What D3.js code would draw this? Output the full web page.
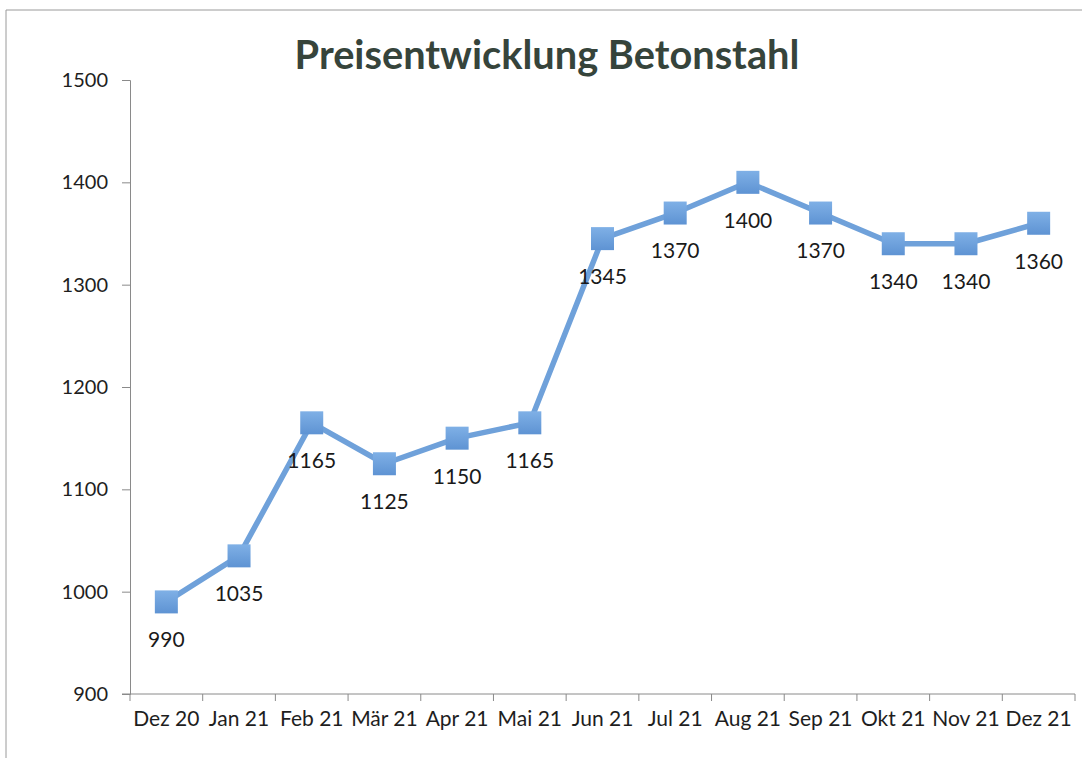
<!DOCTYPE html>
<html><head><meta charset="utf-8">
<script src="https://cdn.jsdelivr.net/npm/d3@7"></script>
<style>
html,body{margin:0;padding:0;background:#fff;}
svg{display:block;}
</style>
</head><body>
<svg id="c" width="1082" height="758"></svg>
<script>
const categories = ["Dez 20","Jan 21","Feb 21","Mär 21","Apr 21","Mai 21","Jun 21","Jul 21","Aug 21","Sep 21","Okt 21","Nov 21","Dez 21"];
const prices = [990,1035,1165,1125,1150,1165,1345,1370,1400,1370,1340,1340,1360];
const yTicks = [900,1000,1100,1200,1300,1400,1500];
const titleText = "Preisentwicklung Betonstahl";

const svg = d3.select("#c");
const FONT = "Lato, 'Open Sans', sans-serif";

// faint scan frame
svg.append("line").attr("x1",6).attr("x2",6).attr("y1",10).attr("y2",758).attr("stroke","#9a9a9a").attr("stroke-width",1);
svg.append("line").attr("x1",6).attr("x2",1082).attr("y1",10).attr("y2",10).attr("stroke","#9a9a9a").attr("stroke-width",1);

const x = d3.scaleBand().domain(categories).range([130,1075]).padding(0);
const y = d3.scaleLinear().domain([900,1500]).range([694,80]);

const defs = svg.append("defs");
const g = defs.append("linearGradient").attr("id","mk").attr("x1",0).attr("y1",0).attr("x2",0).attr("y2",1);
g.append("stop").attr("offset","0%").attr("stop-color","#7fb0e6");
g.append("stop").attr("offset","100%").attr("stop-color","#5e93d3");

// y axis
const yAxis = d3.axisLeft(y).tickValues(yTicks).tickSize(8).tickPadding(14).tickFormat(d3.format("d"));
const ya = svg.append("g").attr("transform","translate(130,0)").call(yAxis);
ya.select(".domain").attr("stroke","#8a8a8a");
ya.selectAll(".tick line").attr("stroke","#8a8a8a");
ya.selectAll(".tick text").attr("font-family",FONT).attr("font-size",20).attr("fill","#1e1e1e");

// x axis with ticks between categories
const xa = svg.append("g").attr("transform","translate(0,694)");
xa.append("line").attr("x1",122).attr("x2",x.range()[1]).attr("y1",0).attr("y2",0).attr("stroke","#8a8a8a");
const bounds = categories.map(c=>x(c)).concat([x.range()[1]]);
xa.selectAll("line.t").data(bounds).enter().append("line").attr("class","t")
  .attr("x1",d=>d).attr("x2",d=>d).attr("y1",0).attr("y2",7).attr("stroke","#8a8a8a");
xa.selectAll("text").data(categories).enter().append("text")
  .attr("x",d=>x(d)+x.bandwidth()/2).attr("y",32)
  .attr("text-anchor","middle").attr("font-family",FONT).attr("font-size",21).attr("fill","#1e1e1e")
  .text(d=>d);

// line
const pts = categories.map((c,i)=>({c, v:prices[i]}));
const cx = d=>x(d.c)+x.bandwidth()/2;
svg.append("path").datum(pts)
  .attr("d", d3.line().x(cx).y(d=>y(d.v)))
  .attr("fill","none").attr("stroke","#6fa1da").attr("stroke-width",5.5).attr("stroke-linejoin","round");

// markers
const ms = 23;
svg.selectAll("rect.m").data(pts).enter().append("rect").attr("class","m")
  .attr("x",d=>cx(d)-ms/2).attr("y",d=>y(d.v)-ms/2).attr("width",ms).attr("height",ms)
  .attr("fill","url(#mk)");

// data labels
svg.selectAll("text.l").data(pts).enter().append("text").attr("class","l")
  .attr("x",cx).attr("y",d=>y(d.v)+38).attr("dy","0.35em")
  .attr("text-anchor","middle").attr("font-family",FONT).attr("font-size",21).attr("fill","#1a1a1a")
  .text(d=>d.v);

// title, fitted to the reference width
const t = svg.append("text").attr("x",547).attr("y",69).attr("text-anchor","middle")
  .attr("font-family",FONT).attr("font-weight","bold").attr("font-size",36).attr("fill","#36443b")
  .text(titleText);
const w = t.node().getComputedTextLength();
t.attr("font-size", 36*505/w);
</script>
</body></html>
